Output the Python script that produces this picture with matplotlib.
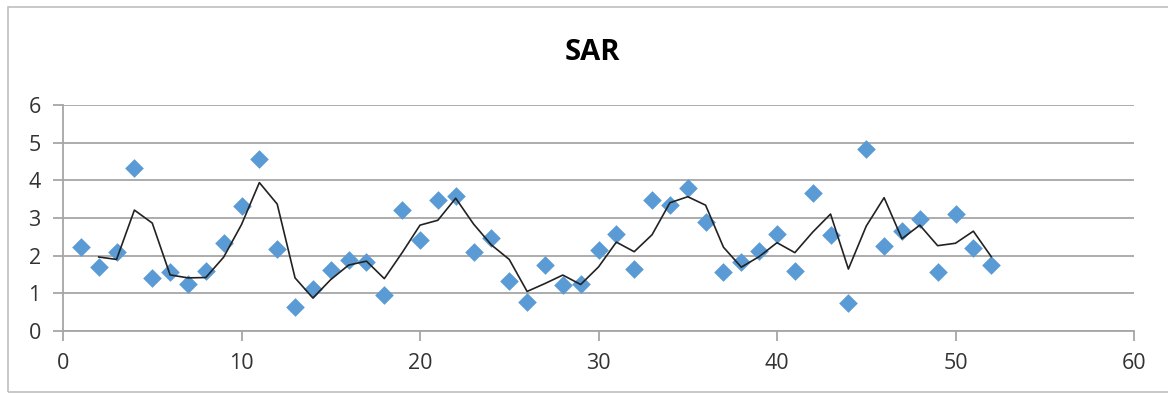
import matplotlib
matplotlib.use("Agg")
from matplotlib import pyplot as plt
from matplotlib.patches import Rectangle
import numpy as np
import pandas as pd

plt.rcParams['font.family'] = ['Open Sans', 'DejaVu Sans']

weeks = np.arange(1, 53)
sar = [2.23, 1.70, 2.10, 4.32, 1.41, 1.57, 1.25, 1.59, 2.33, 3.32,
       4.56, 2.18, 0.64, 1.11, 1.62, 1.88, 1.83, 0.95, 3.21, 2.41,
       3.47, 3.58, 2.10, 2.47, 1.33, 0.77, 1.75, 1.22, 1.25, 2.15,
       2.57, 1.64, 3.47, 3.34, 3.79, 2.89, 1.56, 1.83, 2.12, 2.57,
       1.59, 3.66, 2.55, 0.74, 4.83, 2.25, 2.65, 2.97, 1.56, 3.10,
       2.20, 1.75]
x_ticks = [0, 10, 20, 30, 40, 50, 60]
y_ticks = [0, 1, 2, 3, 4, 5, 6]

# 2-period moving average trendline
trend = pd.Series(sar).rolling(2).mean()

fig = plt.figure(figsize=(11.68, 3.94), dpi=100)
ax = fig.add_axes([63 / 1168, 1 - 331 / 394, (1134 - 63) / 1168, (331 - 105) / 394])

grid_col = '#A6A6A6'
txt_col = '#333333'

ax.scatter(weeks, sar, marker='D', s=9.5**2, color='#5B9BD5', zorder=3, linewidths=0)
ax.plot(weeks, trend, color='#222222', lw=1.2, zorder=4)

ax.set_xlim(0, 60)
ax.set_ylim(0, 6)
ax.set_xticks(x_ticks)
ax.set_yticks(y_ticks)
ax.yaxis.grid(True, color=grid_col, lw=1.3)
ax.set_axisbelow(True)

for s in ['top', 'right']:
    ax.spines[s].set_visible(False)
for s in ['left', 'bottom']:
    ax.spines[s].set_color(grid_col)
    ax.spines[s].set_linewidth(1.3)

ax.tick_params(axis='both', colors=grid_col, labelcolor=txt_col, labelsize=15.5,
               length=7, width=1.3, pad=9)

fig.text(592 / 1168, 1 - 53 / 394, 'SAR', fontsize=21, fontweight='bold',
         ha='center', va='center', color='black')

# chart frame
fig.patches.append(Rectangle((8 / 1168, 1 - 392 / 394), 1.1, (392 - 7) / 394,
                             transform=fig.transFigure, fill=False,
                             edgecolor='#BFBFBF', lw=1.2))

fig.savefig('out.png', dpi=100)
